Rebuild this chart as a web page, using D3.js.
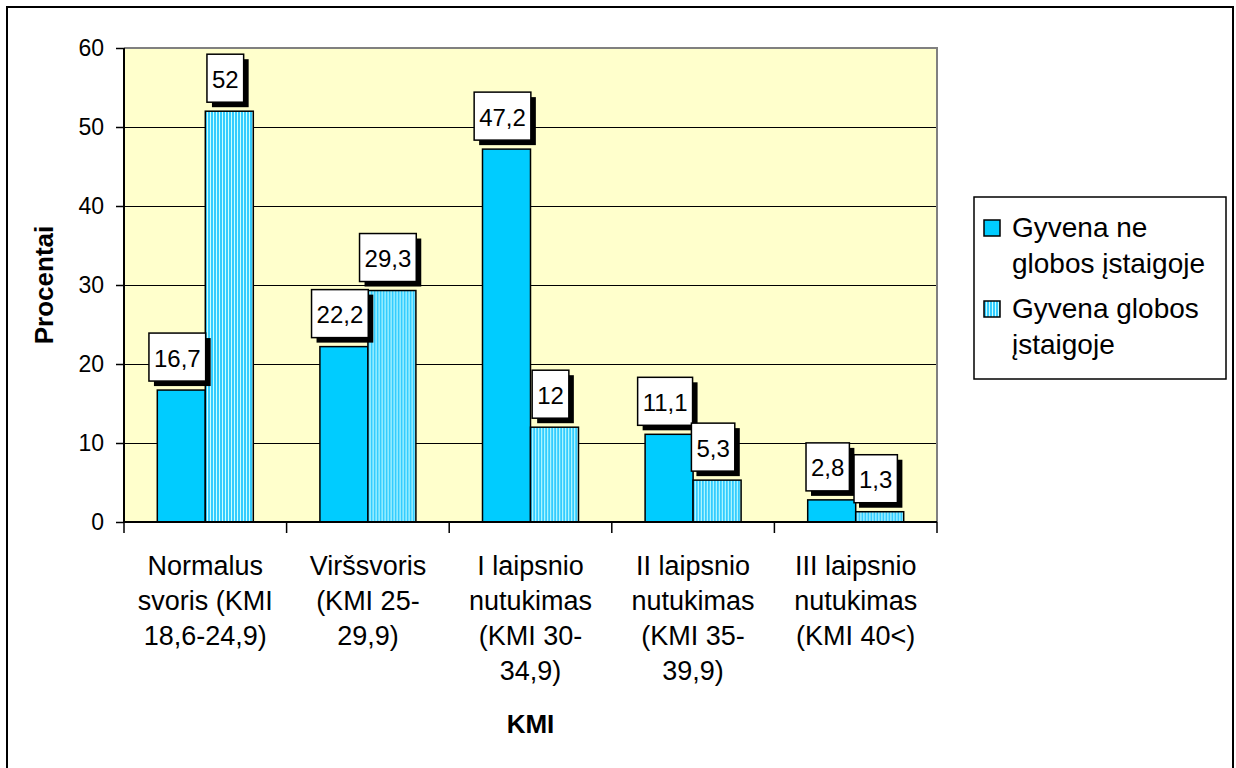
<!DOCTYPE html>
<html>
<head>
<meta charset="utf-8">
<script src="https://cdn.jsdelivr.net/npm/d3@7"></script>
<style>
  html, body { margin: 0; padding: 0; background: #fff; }
  svg { display: block; font-family: Arial, "Liberation Sans", sans-serif; }
</style>
</head>
<body>
<svg id="chart" width="1236" height="768"></svg>
<script>
// KMI categories (each label broken into its printed lines)
const categories = [
  "Normalus svoris (KMI 18,6-24,9)",
  "Viršsvoris (KMI 25-29,9)",
  "I laipsnio nutukimas (KMI 30-34,9)",
  "II laipsnio nutukimas (KMI 35-39,9)",
  "III laipsnio nutukimas (KMI 40<)"
];
const categoryLines = [
  ["Normalus", "svoris (KMI", "18,6-24,9)"],
  ["Viršsvoris", "(KMI 25-", "29,9)"],
  ["I laipsnio", "nutukimas", "(KMI 30-", "34,9)"],
  ["II laipsnio", "nutukimas", "(KMI 35-", "39,9)"],
  ["III laipsnio", "nutukimas", "(KMI 40<)"]
];
const seriesNames = ["Gyvena ne globos įstaigoje", "Gyvena globos įstaigoje"];
const legendLines = [["Gyvena ne", "globos įstaigoje"], ["Gyvena globos", "įstaigoje"]];
const notInCare = [16.7, 22.2, 47.2, 11.1, 2.8];
const inCare = [52, 29.3, 12, 5.3, 1.3];
const yTicks = [0, 10, 20, 30, 40, 50, 60];
const yTitle = "Procentai";
const xTitle = "KMI";

const svg = d3.select("#chart");
const plot = { left: 124, top: 48, right: 937, bottom: 522 };

// stripe fill for the second series
const defs = svg.append("defs");
const pat = defs.append("pattern")
  .attr("id", "stripes").attr("patternUnits", "userSpaceOnUse")
  .attr("width", 3).attr("height", 10);
pat.append("rect").attr("width", 3).attr("height", 10).attr("fill", "#33CCFF");
pat.append("rect").attr("x", 2).attr("width", 1).attr("height", 10).attr("fill", "#CCFFFF");

const fills = ["#00CCFF", "url(#stripes)"];

// outer chart frame
svg.append("rect")
  .attr("x", 7).attr("y", 7).attr("width", 1226).attr("height", 764)
  .attr("fill", "none").attr("stroke", "#000").attr("stroke-width", 2);

// scales
const x = d3.scaleBand().domain(categories).range([plot.left, plot.right]);
const y = d3.scaleLinear().domain([0, 60]).range([plot.bottom, plot.top]);
const barW = 48;
const sub = d3.scaleBand().domain([0, 1])
  .range([x.bandwidth() / 2 - barW, x.bandwidth() / 2 + barW]);

// plot background
svg.append("rect")
  .attr("x", plot.left).attr("y", plot.top)
  .attr("width", plot.right - plot.left).attr("height", plot.bottom - plot.top)
  .attr("fill", "#FFFFCC");

// gridlines
svg.append("g").selectAll("line")
  .data(yTicks.filter(t => t > 0 && t < 60))
  .join("line")
  .attr("x1", plot.left).attr("x2", plot.right)
  .attr("y1", d => Math.round(y(d)) + 0.5).attr("y2", d => Math.round(y(d)) + 0.5)
  .attr("stroke", "#000").attr("stroke-width", 1);

// gray top/right border of the plot area
svg.append("path")
  .attr("d", `M${plot.left},${plot.top} H${plot.right} V${plot.bottom}`)
  .attr("fill", "none").attr("stroke", "#808080").attr("stroke-width", 2);

// bars
const series = [notInCare, inCare];
const groups = svg.append("g").selectAll("g")
  .data(categories)
  .join("g")
  .attr("transform", d => `translate(${x(d)},0)`);

series.forEach((vals, s) => {
  groups.append("rect")
    .attr("x", sub(s))
    .attr("y", (d, i) => y(vals[i]))
    .attr("width", sub.bandwidth())
    .attr("height", (d, i) => y(0) - y(vals[i]))
    .attr("fill", fills[s])
    .attr("stroke", "#000").attr("stroke-width", 1.5);
});

// axes
const yAxis = svg.append("g")
  .attr("transform", `translate(${plot.left},0)`)
  .call(d3.axisLeft(y).tickValues(yTicks).tickSize(8).tickPadding(12));
yAxis.select(".domain").attr("stroke", "#000").attr("stroke-width", 2)
  .attr("d", `M0,${plot.top}V${plot.bottom}`);
yAxis.selectAll(".tick line").attr("stroke", "#000").attr("stroke-width", 1.5);
yAxis.selectAll(".tick text")
  .attr("font-size", 23).attr("fill", "#000")
  .attr("font-family", "Arial, 'Liberation Sans', sans-serif");

// x axis baseline and category separators
const bounds = categories.map(c => x(c)).concat([plot.right]);
const xAxis = svg.append("g");
xAxis.append("line")
  .attr("x1", plot.left).attr("x2", plot.right)
  .attr("y1", plot.bottom).attr("y2", plot.bottom)
  .attr("stroke", "#000").attr("stroke-width", 2);
xAxis.selectAll("line.sep").data(bounds).join("line")
  .attr("class", "sep")
  .attr("x1", d => d).attr("x2", d => d)
  .attr("y1", plot.bottom).attr("y2", plot.bottom + 11)
  .attr("stroke", "#000").attr("stroke-width", 1.5);

// category labels
const catText = svg.append("g").selectAll("text")
  .data(categories)
  .join("text")
  .attr("x", d => x(d) + x.bandwidth() / 2)
  .attr("y", 575)
  .attr("text-anchor", "middle")
  .attr("font-size", 27).attr("fill", "#000");
catText.selectAll("tspan")
  .data((d, i) => categoryLines[i])
  .join("tspan")
  .attr("x", function () { return this.parentNode.getAttribute("x"); })
  .attr("dy", (d, j) => j === 0 ? 0 : 35)
  .text(d => d);

// axis titles
svg.append("text")
  .attr("x", (plot.left + plot.right) / 2).attr("y", 733)
  .attr("text-anchor", "middle").attr("font-size", 26).attr("font-weight", "bold")
  .text(xTitle);
svg.append("text")
  .attr("transform", `translate(53,${(plot.top + plot.bottom) / 2}) rotate(-90)`)
  .attr("text-anchor", "middle").attr("font-size", 26).attr("font-weight", "bold")
  .text(yTitle);

// value labels: white boxes with a drop shadow
const fmt = v => String(v).replace(".", ",");
series.forEach((vals, s) => {
  categories.forEach((c, i) => {
    const cx = x(c) + sub(s) + sub.bandwidth() / 2 - 4;
    const top = y(vals[i]);
    const g = svg.append("g");
    const t = g.append("text")
      .attr("font-size", 24).attr("text-anchor", "middle")
      .attr("x", cx).attr("dominant-baseline", "central")
      .text(fmt(vals[i]));
    const tw = t.node().getComputedTextLength();
    const bw = tw + 10, bh = 48;
    const by = top - 9 - bh;
    g.insert("rect", "text")
      .attr("x", cx - bw / 2 + 5).attr("y", by + 5)
      .attr("width", bw).attr("height", bh).attr("fill", "#000");
    g.insert("rect", "text")
      .attr("x", cx - bw / 2).attr("y", by)
      .attr("width", bw).attr("height", bh)
      .attr("fill", "#fff").attr("stroke", "#000").attr("stroke-width", 1.5);
    t.attr("y", by + bh / 2 + 1);
  });
});

// legend
const lg = svg.append("g");
lg.append("rect")
  .attr("x", 974).attr("y", 197).attr("width", 252).attr("height", 182)
  .attr("fill", "#fff").attr("stroke", "#000").attr("stroke-width", 1.5);
const entryY = [237, 318];
seriesNames.forEach((name, s) => {
  lg.append("rect")
    .attr("x", 984).attr("y", entryY[s] - 17).attr("width", 16).attr("height", 16)
    .attr("fill", fills[s]).attr("stroke", "#000").attr("stroke-width", 1.5);
  const t = lg.append("text")
    .attr("x", 1012).attr("y", entryY[s])
    .attr("font-size", 28).attr("fill", "#000");
  t.selectAll("tspan").data(legendLines[s]).join("tspan")
    .attr("x", 1012).attr("dy", (d, j) => j === 0 ? 0 : 36)
    .text(d => d);
});
</script>
</body>
</html>
